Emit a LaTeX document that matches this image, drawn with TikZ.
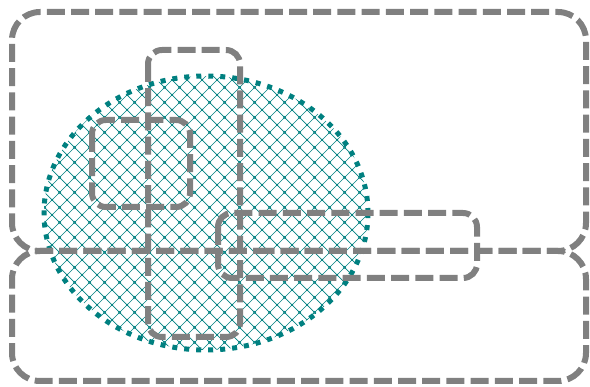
\documentclass[tikz,border=0pt]{standalone}
\usepackage{xcolor}
\usetikzlibrary{patterns.meta}

\tikzdeclarepattern{
  name=diamondmesh,
  type=uncolored,
  bounding box={(0,0) and (15pt,15pt)},
  tile size={(15pt,15pt)},
  code={
    \draw[line width=0.6pt] (0,0) -- (15pt,15pt) (0,15pt) -- (15pt,0);
    \fill (7.5pt,7.5pt) circle (1.3pt);
    \fill (0,0) circle (1.3pt) (15pt,0) circle (1.3pt)
          (0,15pt) circle (1.3pt) (15pt,15pt) circle (1.3pt);
  }
}

\begin{document}
\begin{tikzpicture}[x=1pt,y=-1pt,
    region/.style={draw=gray,line width=6pt,dash pattern=on 18pt off 6.222pt,rounded corners=28pt},
    subregion/.style={region,rounded corners=14pt},
    blob/.style={draw=teal,line width=5pt,dash pattern=on 5pt off 7pt,
      pattern={diamondmesh},pattern color=teal}]

  \useasboundingbox (0,0) rectangle (590,387);

  \draw[blob] (206,213) ellipse [x radius=162pt, y radius=137pt];

  % outer regions, both start on the shared edge so the dashes line up
  \coordinate (mid) at (299,251);
  \draw[region] (mid) -- (12,251) -- (12,12) -- (586,12) -- (586,251) -- cycle;
  \draw[region] (mid) -- (12,251) -- (12,381) -- (586,381) -- (586,251) -- cycle;

  % inner regions
  \draw[subregion] (148,50) rectangle (240,337);
  \draw[subregion] (92,120) rectangle (190,207);
  \draw[subregion] (218,213) rectangle (477,278);

\end{tikzpicture}
\end{document}
